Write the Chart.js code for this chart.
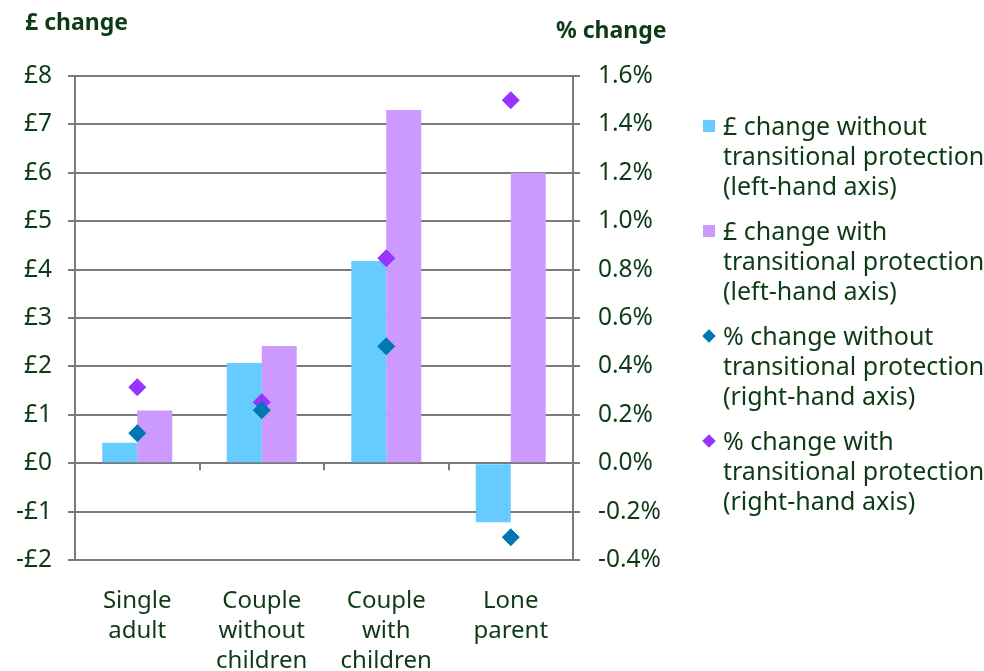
<!DOCTYPE html>
<html>
<head>
<meta charset="utf-8">
<script src="https://cdn.jsdelivr.net/npm/chart.js@4.4.1/dist/chart.umd.min.js"></script>
<style>
  html, body { margin: 0; padding: 0; background: #fff; }
  body { width: 984px; height: 671px; position: relative; overflow: hidden; font-family: "Noto Sans", sans-serif; color: #0d3b16; }
  #wrap { position: absolute; left: 0; top: 0; width: 984px; height: 671px; }
  .axis-title { position: absolute; font-weight: bold; font-size: 23px; }
  #legend { position: absolute; left: 703px; top: 110px; font-size: 25px; line-height: 30px; }
  .item { position: relative; padding-left: 20px; margin-bottom: 15px; white-space: nowrap; }
  .mark { position: absolute; left: 0; top: 10px; width: 12px; height: 12px; }
  .diamond { transform: rotate(45deg) scale(0.8); }
</style>
</head>
<body>
<div id="wrap"><canvas id="chart" width="984" height="671"></canvas></div>
<div class="axis-title" style="left:25px; top:5px;">£ change</div>
<div class="axis-title" style="left:556px; top:13px;">% change</div>
<div id="legend"></div>
<script>
const categories = [["Single", "adult"], ["Couple", "without", "children"], ["Couple", "with", "children"], ["Lone", "parent"]];
const poundWithout = [0.42, 2.07, 4.18, -1.22];
const poundWith = [1.09, 2.42, 7.30, 6.00];
const pctWithout = [0.124, 0.219, 0.483, -0.306];
const pctWith = [0.314, 0.252, 0.847, 1.50];
const seriesNames = [
  ["£ change without", "transitional protection", "(left-hand axis)"],
  ["£ change with", "transitional protection", "(left-hand axis)"],
  ["% change without", "transitional protection", "(right-hand axis)"],
  ["% change with", "transitional protection", "(right-hand axis)"]
];
const colours = ["#66ccff", "#cc99ff", "#0077b3", "#9933ff"];
const textColour = "#0d3b16";
const gridColour = "#7a7a7a";

// legend built as html
const legend = document.getElementById("legend");
seriesNames.forEach((lines, i) => {
  const item = document.createElement("div");
  item.className = "item";
  const mark = document.createElement("span");
  mark.className = "mark" + (i >= 2 ? " diamond" : "");
  mark.style.background = colours[i];
  item.appendChild(mark);
  item.insertAdjacentHTML("beforeend", lines.join("<br>"));
  legend.appendChild(item);
});

// small tick marks below the zero line at category boundaries
const zeroTicks = {
  id: "zeroTicks",
  afterDatasetsDraw(chart) {
    const x = chart.scales.x;
    const y0 = chart.scales.y.getPixelForValue(0);
    const half = (x.getPixelForValue(1) - x.getPixelForValue(0)) / 2;
    const c = chart.ctx;
    c.save();
    c.strokeStyle = gridColour;
    c.lineWidth = 2;
    for (let i = 0; i <= categories.length; i++) {
      const px = Math.round(x.getPixelForValue(0) - half + i * half * 2);
      c.beginPath();
      c.moveTo(px, y0);
      c.lineTo(px, y0 + 7);
      c.stroke();
    }
    c.restore();
  }
};

const tickFont = { family: "Noto Sans", size: 24.5 };

new Chart(document.getElementById("chart"), {
  type: "bar",
  data: {
    labels: categories,
    datasets: [
      { label: seriesNames[2].join(" "), type: "line", data: pctWithout, yAxisID: "y1", showLine: false,
        pointStyle: "rectRot", pointRadius: 8.5, pointBackgroundColor: colours[2], pointBorderColor: colours[2], pointBorderWidth: 1, order: 0 },
      { label: seriesNames[3].join(" "), type: "line", data: pctWith, yAxisID: "y1", showLine: false,
        pointStyle: "rectRot", pointRadius: 8.5, pointBackgroundColor: colours[3], pointBorderColor: colours[3], pointBorderWidth: 1, order: 0 },
      { label: seriesNames[0].join(" "), data: poundWithout, backgroundColor: colours[0], yAxisID: "y", order: 1 },
      { label: seriesNames[1].join(" "), data: poundWith, backgroundColor: colours[1], yAxisID: "y", order: 1 }
    ]
  },
  options: {
    responsive: false,
    animation: false,
    layout: { padding: { top: 76, left: 0, right: 0, bottom: 0 } },
    datasets: { bar: { barPercentage: 1, categoryPercentage: 0.562 } },
    plugins: { legend: { display: false }, tooltip: { enabled: false } },
    scales: {
      x: {
        grid: { display: false },
        border: { display: false },
        ticks: { color: textColour, font: { family: "Noto Sans", size: 24, lineHeight: 1.25 }, padding: 18, maxRotation: 0 },
        afterFit: (s) => { s.height = 111; }
      },
      y: {
        position: "left",
        min: -2, max: 8,
        ticks: { stepSize: 1, color: textColour, font: tickFont, padding: 16,
          callback: (v) => (v < 0 ? "-£" + Math.abs(v) : "£" + v) },
        grid: { color: gridColour, lineWidth: 2, tickLength: 7 },
        border: { color: gridColour, width: 2 },
        afterFit: (s) => { s.width = 75; }
      },
      y1: {
        position: "right",
        min: -0.4, max: 1.6,
        ticks: { stepSize: 0.2, color: textColour, font: tickFont, padding: 18,
          callback: (v) => v.toFixed(1) + "%" },
        grid: { drawOnChartArea: false, color: gridColour, lineWidth: 2, tickLength: 7 },
        border: { color: gridColour, width: 2 },
        afterFit: (s) => { s.width = 411; }
      }
    }
  },
  plugins: [zeroTicks]
});
</script>
</body>
</html>
